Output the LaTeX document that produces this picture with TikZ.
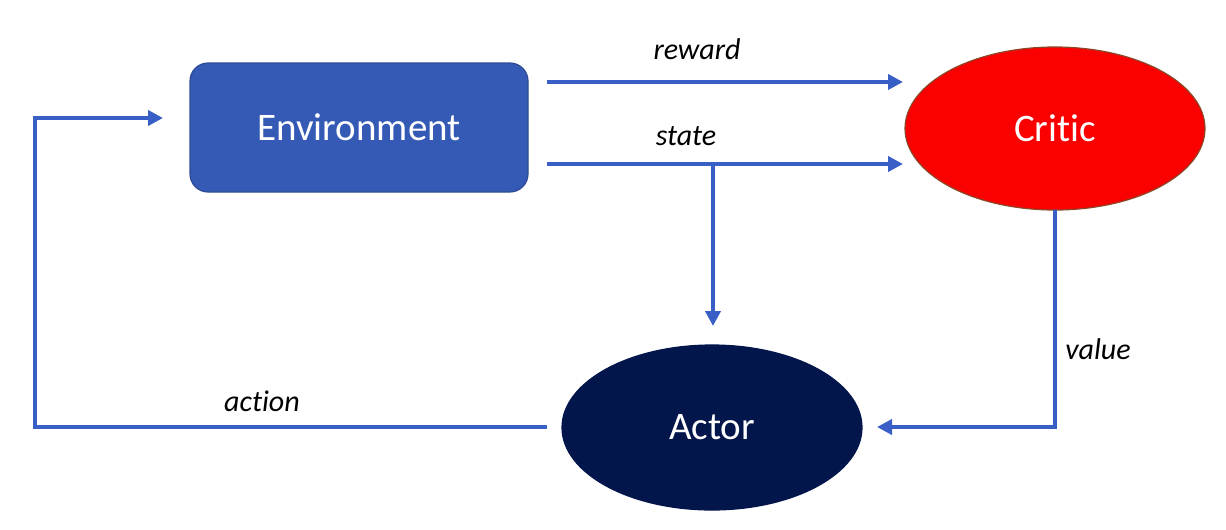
\documentclass[tikz,border=0pt]{standalone}
\usepackage{fontspec}
\setmainfont{Carlito}[Ligatures=NoCommon]
\usetikzlibrary{shapes.geometric,arrows.meta}
\definecolor{envblue}{RGB}{53,90,182}
\definecolor{envborder}{RGB}{47,75,150}
\definecolor{criticred}{RGB}{250,0,0}
\definecolor{criticborder}{RGB}{140,70,40}
\definecolor{actornavy}{RGB}{3,22,76}
\definecolor{arrowblue}{RGB}{55,95,198}
\tikzset{
  flow/.style={draw=arrowblue, line width=2.1pt, -{Triangle[length=7.5pt,width=7.5pt]}},
  lbl/.style={font=\fontsize{15}{18}\selectfont\itshape, text=black, inner sep=0pt},
  mainlbl/.style={font=\fontsize{19.5}{23}\selectfont, text=white},
  envbox/.style={rectangle, rounded corners=9pt, fill=envblue, draw=envborder, line width=0.6pt,
    minimum width=169pt, minimum height=64.5pt, inner sep=0pt, outer sep=0pt, mainlbl},
  critic/.style={ellipse, fill=criticred, draw=criticborder, line width=0.6pt,
    minimum width=150pt, minimum height=81.5pt, inner sep=0pt, outer sep=0pt, mainlbl},
  actor/.style={ellipse, fill=actornavy, draw=actornavy, line width=0.6pt,
    minimum width=150pt, minimum height=82.5pt, inner sep=0pt, outer sep=0pt, mainlbl}
}
\begin{document}
\begin{tikzpicture}[x=0.5pt,y=-0.5pt]
\useasboundingbox (0,0) rectangle (1226,530);
\node[envbox] (env) at (359,127.5) {Environment};
\node[critic] (critic) at (1055,128.5) {Critic};
\node[actor] (actor) at (712,427.5) {Actor};
% connector ends
\coordinate (rS) at (547,82);
\coordinate (rE) at (903,82);
\coordinate (sS) at (547,164);
\coordinate (sE) at (903,164);
\coordinate (sB) at (713,164);
\coordinate (sT) at (713,326);
\coordinate (vC) at (1055,427);
\coordinate (vE) at (877,427);
\coordinate (aS) at (547,427);
\coordinate (aC1) at (35,427);
\coordinate (aC2) at (35,118);
\coordinate (aE) at (163,118);
% reward
\draw[flow] (rS) -- (rE);
\node[lbl] at (697,49) {reward};
% state
\draw[flow] (sS) -- (sE);
\draw[flow] (sB) -- (sT);
\node[lbl] at (686,136) {state};
% value
\draw[flow] (critic.south) -- (vC) -- (vE);
\node[lbl] at (1098,349) {value};
% action
\draw[flow] (aS) -- (aC1) -- (aC2) -- (aE);
\node[lbl] at (262,401) {action};
\end{tikzpicture}
\end{document}
